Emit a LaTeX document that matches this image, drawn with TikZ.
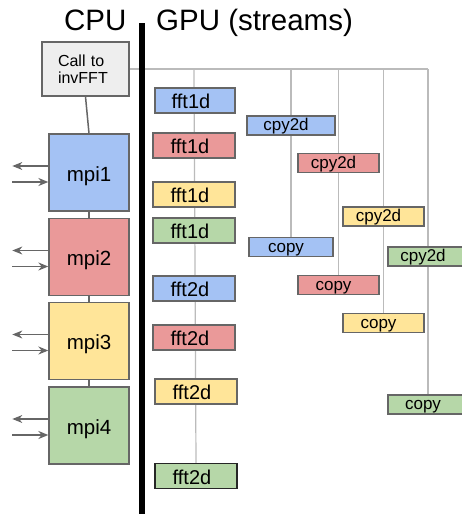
\documentclass[tikz,border=0pt]{standalone}
\usepackage{fontspec}
\setmainfont{Liberation Sans}
\usetikzlibrary{arrows.meta,backgrounds}
\definecolor{cblue}{HTML}{A4C2F4}
\definecolor{cred}{HTML}{EA9999}
\definecolor{cyellow}{HTML}{FFE599}
\definecolor{cgreen}{HTML}{B6D7A8}
\definecolor{cgray}{HTML}{EEEEEE}
\definecolor{bord}{HTML}{666666}
\definecolor{lgray}{HTML}{BBBBBB}
\tikzset{
  box/.style={draw=bord, line width=1.3pt, inner sep=0pt, anchor=center},
  mpibox/.style={box, minimum width=80pt, minimum height=77pt, text height=17pt, text depth=0pt, font=\fontsize{20.5}{24}\selectfont},
  fftbox/.style={box, minimum width=82pt, minimum height=25pt, text height=16pt, text depth=0pt, font=\fontsize{20}{22}\selectfont, execute at begin node={\kern-8pt}},
  cpybox/.style={box, minimum width=82pt, minimum height=19pt, text height=14pt, text depth=4pt, font=\fontsize{17}{19}\selectfont, execute at begin node={\kern-10pt}},
  stream/.style={draw=lgray, line width=1.2pt},
  cpuline/.style={draw=bord, line width=1.5pt},
  arr/.style={draw=bord, line width=1.4pt, -{Stealth[length=10pt,width=8pt]}},
  title/.style={anchor=base west, inner sep=0pt, font=\fontsize{29.5}{32}\selectfont}
}
\begin{document}
\begin{tikzpicture}[x=1pt,y=-1pt]
\useasboundingbox (0,0) rectangle (461,514);
% titles
\node[title] (cpu) at (64,30) {CPU};
\node[title] (gpu) at (156,30) {GPU (streams)};
% divider
\coordinate (divtop) at (142,23);
\coordinate (divbot) at (142,520);
\draw[line width=6pt] (divtop) -- (divbot);
% call box
\node[box, fill=cgray, minimum width=87pt, minimum height=54pt, text width=55pt, inner xsep=16pt, align=left, font=\fontsize{16}{17}\selectfont] (call) at (85.5,69) {Call to\\invFFT};
% mpi boxes
\node[mpibox, fill=cblue] (mpi1) at (89,172.5) {mpi1};
\node[mpibox, fill=cred] (mpi2) at (89,257) {mpi2};
\node[mpibox, fill=cyellow] (mpi3) at (89,341) {mpi3};
\node[mpibox, fill=cgreen] (mpi4) at (89,425.5) {mpi4};
% fft boxes
\node[fftbox, fill=cblue, minimum width=80pt] (fB1) at (195,100.5) {fft1d};
\node[fftbox, fill=cred] (fR1) at (194,145.5) {fft1d};
\node[fftbox, fill=cyellow] (fY1) at (194,194.5) {fft1d};
\node[fftbox, fill=cgreen] (fG1) at (194,230.5) {fft1d};
\node[fftbox, fill=cblue] (fB2) at (194,288.5) {fft2d};
\node[fftbox, fill=cred] (fR2) at (194,337.5) {fft2d};
\node[fftbox, fill=cyellow] (fY2) at (196,391.5) {fft2d};
\node[fftbox, fill=cgreen, draw=black!85] (fG2) at (196,476) {fft2d};
% copy boxes
\node[cpybox, fill=cblue, minimum width=88pt] (cB) at (291,125.5) {cpy2d};
\node[cpybox, fill=cred, minimum width=81pt] (cR) at (338.5,163) {cpy2d};
\node[cpybox, fill=cyellow, minimum width=81pt] (cY) at (383.5,216.5) {cpy2d};
\node[cpybox, fill=cgreen, minimum width=80pt] (cG) at (428,256.5) {cpy2d};
\node[cpybox, fill=cblue, minimum width=84pt] (pB) at (291,247) {copy};
\node[cpybox, fill=cred, minimum width=81pt] (pR) at (338.5,285) {copy};
\node[cpybox, fill=cyellow, minimum width=81pt] (pY) at (383.5,323) {copy};
\node[cpybox, fill=cgreen, minimum width=80pt] (pG) at (428,404.5) {copy};
% stream lines
\coordinate (s1) at (194,69);
\coordinate (s2) at (291,69);
\coordinate (s3) at (338.5,69);
\coordinate (s4) at (383.5,69);
\coordinate (s5) at (428,69);
\begin{scope}[on background layer]
\draw[stream] (call.east) -- (s5);
\draw[stream] (s1) -- (fG2.north);
\draw[stream] (s2) -- (pB.north);
\draw[stream] (s3) -- (pR.north);
\draw[stream] (s4) -- (pY.north);
\draw[stream] (s5) -- (pG.north);
\end{scope}
% cpu chain
\draw[cpuline] (call.south) -- (mpi1.north);
\draw[cpuline] (mpi1.south) -- (mpi2.north);
\draw[cpuline] (mpi2.south) -- (mpi3.north);
\draw[cpuline] (mpi3.south) -- (mpi4.north);
% mpi arrows
\foreach \m in {mpi1,mpi2,mpi3,mpi4}{
  \coordinate (\m out) at ([xshift=-36pt,yshift=6.5pt]\m.west);
  \coordinate (\m in) at ([xshift=-36pt,yshift=-9.5pt]\m.west);
  \draw[arr] ([yshift=6.5pt]\m.west) -- (\m out);
  \draw[arr] (\m in) -- ([yshift=-9.5pt]\m.west);
}
\end{tikzpicture}
\end{document}
